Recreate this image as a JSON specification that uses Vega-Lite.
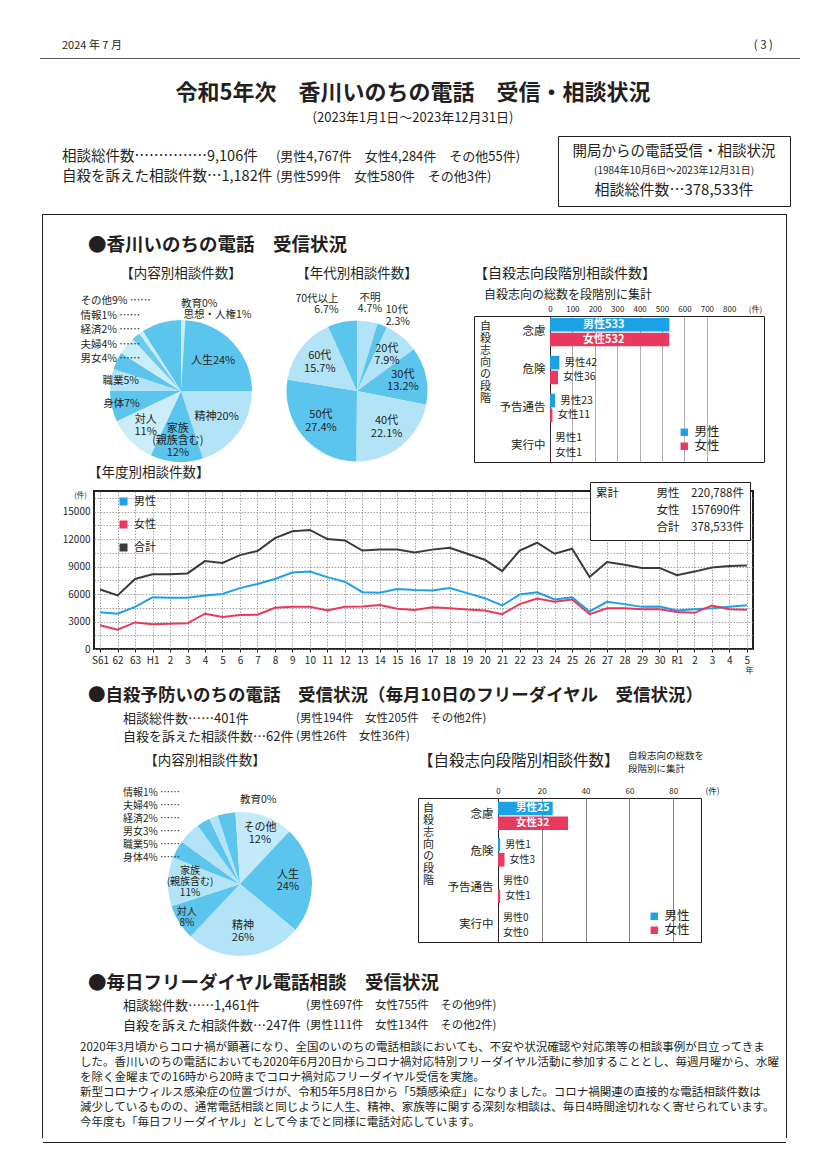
{
"$schema":"https://vega.github.io/schema/vega-lite/v6.json",
"background":"#ffffff",
"padding":0,
"spacing":0,
"resolve":{"scale":{"color":"independent","shape":"independent","theta":"independent"},"legend":{"color":"independent","shape":"independent"}},
"config":{"font":"Noto Sans CJK JP","view":{"stroke":null},"concat":{"spacing":0},"text":{"color":"#231f20"},"axis":{"labelColor":"#231f20","titleColor":"#231f20"},"legend":{"labelColor":"#231f20","titleColor":"#231f20","padding":0},"title":{"color":"#231f20","subtitleColor":"#231f20"}},
"vconcat":[
 {"width":826,"height":34,"data":{"values":[]},"mark":"text"},
 {"hconcat":[
   {"width":62,"height":24,"data":{"values":[]},"mark":"text"},
   {"width":711,"height":24,
    "data":{"values":[{"部":"日付","文":"2024 年 7 月"},{"部":"頁","文":"( 3 )"}]},
    "layer":[
     {"transform":[{"filter":"datum['部'] == '日付'"}],"mark":{"type":"text","align":"left","fontSize":11},
      "encoding":{"x":{"field":"部","type":"nominal","bandPosition":0,"scale":{"type":"band","domain":["日付","頁"],"paddingInner":0,"paddingOuter":0},"axis":null},"text":{"field":"文"}}},
     {"transform":[{"filter":"datum['部'] == '頁'"}],"mark":{"type":"text","align":"right","fontSize":11.5},
      "encoding":{"x":{"field":"部","type":"nominal","bandPosition":1,"scale":{"type":"band","domain":["日付","頁"],"paddingInner":0,"paddingOuter":0},"axis":null},"text":{"field":"文"}}}
    ]}
 ],"spacing":0,"bounds":"flush"},
 {"hconcat":[
   {"width":40,"height":1,"data":{"values":[]},"mark":"text"},
   {"width":760,"height":1,"view":{"fill":"#555555","stroke":null},"data":{"values":[]},"mark":"text"}
 ],"spacing":0,"bounds":"flush"},
 {"width":826,"height":21,"data":{"values":[]},"mark":"text"},
 {"width":826,"height":50,
  "data":{"values":[{"行":1,"文":"令和5年次　香川いのちの電話　受信・相談状況"},{"行":2,"文":"(2023年1月1日～2023年12月31日)"}]},
  "encoding":{"y":{"field":"行","type":"ordinal","scale":{"type":"band","domain":[1,2],"paddingInner":0,"paddingOuter":0},"axis":null},"text":{"field":"文"}},
  "layer":[
   {"transform":[{"filter":"datum['行'] == 1"}],"mark":{"type":"text","fontSize":22,"fontWeight":"bold"}},
   {"transform":[{"filter":"datum['行'] == 2"}],"mark":{"type":"text","fontSize":13}}
  ]},
 {"width":826,"height":5,"data":{"values":[]},"mark":"text"},
 {"hconcat":[
   {"width":62,"height":70,"data":{"values":[]},"mark":"text"},
   {"width":496,"height":70,
    "data":{"values":[
      {"行":1,"部":"本","文":"相談総件数……………9,106件"},
      {"行":1,"部":"内訳","文":"(男性4,767件　女性4,284件　その他55件)"},
      {"行":2,"部":"本","文":"自殺を訴えた相談件数…1,182件"},
      {"行":2,"部":"内訳","文":"(男性599件　女性580件　その他3件)"}]},
    "encoding":{
      "x":{"field":"部","type":"nominal","bandPosition":0,"scale":{"type":"band","domain":["本","内訳"],"paddingInner":0,"paddingOuter":0.159,"align":0},"axis":null},
      "y":{"field":"行","type":"ordinal","scale":{"type":"band","domain":[1,2],"paddingInner":0,"paddingOuter":0.75,"align":0.3667},"axis":null},
      "text":{"field":"文"}},
    "layer":[
      {"transform":[{"filter":"datum['部'] == '本'"}],"mark":{"type":"text","align":"left","fontSize":14.5}},
      {"transform":[{"filter":"datum['部'] == '内訳'"}],"mark":{"type":"text","align":"left","fontSize":13}}
    ]},
   {"width":232,"height":70,"view":{"stroke":"#231f20","strokeWidth":1},
    "data":{"values":[{"行":1,"文":"開局からの電話受信・相談状況"},{"行":2,"文":"(1984年10月6日～2023年12月31日)"},{"行":3,"文":"相談総件数…378,533件"}]},
    "encoding":{"y":{"field":"行","type":"ordinal","scale":{"type":"band","domain":[1,2,3],"paddingInner":0,"paddingOuter":0.35},"axis":null},"text":{"field":"文"}},
    "layer":[
      {"transform":[{"filter":"datum['行'] == 1"}],"mark":{"type":"text","fontSize":14.5}},
      {"transform":[{"filter":"datum['行'] == 2"}],"mark":{"type":"text","fontSize":10}},
      {"transform":[{"filter":"datum['行'] == 3"}],"mark":{"type":"text","fontSize":15}}
    ]}
 ],"spacing":0,"bounds":"flush"},
 {"width":826,"height":7,"data":{"values":[]},"mark":"text"},
 {"hconcat":[
   {"width":42,"height":924,"data":{"values":[]},"mark":"text"},
   {"width":1,"height":924,"view":{"fill":"#231f20","stroke":null},"data":{"values":[]},"mark":"text"},
   {"vconcat":[
     {"width":743,"height":1,"view":{"fill":"#231f20","stroke":null},"data":{"values":[]},"mark":"text"},
     {"width":743,"height":18,"data":{"values":[]},"mark":"text"},
     {"hconcat":[
       {"width":45,"height":24,"data":{"values":[]},"mark":"text"},
       {"width":420,"height":24,"data":{"values":[{"部":"本","文":"●香川いのちの電話　受信状況"}]},
        "mark":{"type":"text","align":"left","fontSize":18.5,"fontWeight":"bold"},
        "encoding":{"x":{"field":"部","type":"nominal","bandPosition":0,"scale":{"type":"band","paddingInner":0,"paddingOuter":0},"axis":null},"text":{"field":"文"}}}
     ],"spacing":0,"bounds":"flush"},
     {"width":743,"height":3,"data":{"values":[]},"mark":"text"},
     {"hconcat":[
       {"width":58,"height":28,"data":{"values":[]},"mark":"text"},
       {"width":160,"height":28,"data":{"values":[{"文":"【内容別相談件数】"}]},"mark":{"type":"text","fontSize":13.5},"encoding":{"text":{"field":"文"}}},
       {"width":16,"height":28,"data":{"values":[]},"mark":"text"},
       {"width":160,"height":28,"data":{"values":[{"文":"【年代別相談件数】"}]},"mark":{"type":"text","fontSize":13.5},"encoding":{"text":{"field":"文"}}},
       {"width":37,"height":28,"data":{"values":[]},"mark":"text"},
       {"width":290,"height":28,"data":{"values":[{"部":"本","文":"【自殺志向段階別相談件数】"}]},
        "mark":{"type":"text","align":"left","fontSize":14},
        "encoding":{"x":{"field":"部","type":"nominal","bandPosition":0,"scale":{"type":"band","paddingInner":0,"paddingOuter":0},"axis":null},"text":{"field":"文"}}}
     ],"spacing":0,"bounds":"flush"},
     {"hconcat":[
       {"width":58,"height":150,"data":{"values":[]},"mark":"text"},
       {"width":160,"height":150,
        "data":{"values":[
          {"順":1,"内容":"思想・人権","割合":1,"表示":"思想・人権1%"},
          {"順":2,"内容":"人生","割合":24,"表示":"人生24%"},
          {"順":3,"内容":"精神","割合":20,"表示":"精神20%"},
          {"順":4,"内容":"家族","割合":12,"表示":"家族\n(親族含む)\n12%"},
          {"順":5,"内容":"対人","割合":11,"表示":"対人\n11%"},
          {"順":6,"内容":"身体","割合":7,"表示":"身体7%"},
          {"順":7,"内容":"職業","割合":5,"表示":"職業5%"},
          {"順":8,"内容":"男女","割合":4,"表示":"男女4%"},
          {"順":9,"内容":"夫婦","割合":4,"表示":"夫婦4%"},
          {"順":10,"内容":"経済","割合":2,"表示":"経済2%"},
          {"順":11,"内容":"情報","割合":1,"表示":"情報1%"},
          {"順":12,"内容":"その他","割合":9,"表示":"その他9%"},
          {"順":13,"内容":"教育","割合":0,"表示":"教育0%"}]},
        "encoding":{"theta":{"field":"割合","type":"quantitative","stack":true},"order":{"field":"順","type":"quantitative"}},
        "layer":[
          {"mark":{"type":"arc","outerRadius":71},
           "encoding":{"color":{"field":"表示","type":"nominal",
             "scale":{"domain":["思想・人権1%","人生24%","精神20%","家族\n(親族含む)\n12%","対人\n11%","身体7%","職業5%","男女4%","夫婦4%","経済2%","情報1%","その他9%","教育0%"],
                      "range":["#cbedf9","#5cc5ee","#b3e3f7","#5cc5ee","#cbedf9","#5cc5ee","#b3e3f7","#5cc5ee","#cbedf9","#6ccbf0","#cbedf9","#5cc5ee","#b3e3f7"]},
             "legend":{"orient":"none","legendX":-31,"legendY":-20,"title":null,"values":["その他9%","情報1%","経済2%","夫婦4%","男女4%"],"symbolOpacity":0,"symbolSize":0,"symbolStrokeWidth":0,"labelOffset":0,"labelFontSize":10.5,"rowPadding":3.5,"labelExpr":"datum.label + ' ……'"}}}},
          {"mark":{"type":"text","radius":44,"fontSize":11},
           "encoding":{"text":{"field":"表示"},"opacity":{"condition":{"test":"indexof(['人生','精神'], datum['内容']) >= 0","value":1},"value":0}}},
          {"mark":{"type":"text","radius":50,"fontSize":11,"lineHeight":12,"dy":-6,"lineBreak":"\n"},
           "encoding":{"text":{"field":"表示"},"opacity":{"condition":{"test":"datum['内容'] == '対人'","value":1},"value":0}}},
          {"mark":{"type":"text","radius":50,"fontSize":11,"lineHeight":12,"dy":-12,"lineBreak":"\n"},
           "encoding":{"text":{"field":"表示"},"opacity":{"condition":{"test":"datum['内容'] == '家族'","value":1},"value":0}}},
          {"mark":{"type":"text","radius":61,"fontSize":10.5},
           "encoding":{"text":{"field":"表示"},"opacity":{"condition":{"test":"indexof(['身体','職業'], datum['内容']) >= 0","value":1},"value":0}}},
          {"mark":{"type":"text","fontSize":10.5,"align":"left","radius":{"expr":"datum['内容'] == '教育' ? 87 : datum['内容'] == '思想・人権' ? 76 : 0"}},
           "encoding":{"text":{"field":"表示"},"opacity":{"condition":{"test":"indexof(['教育','思想・人権'], datum['内容']) >= 0","value":1},"value":0}}}
        ]},
       {"width":16,"height":150,"data":{"values":[]},"mark":"text"},
       {"width":160,"height":150,
        "data":{"values":[
          {"順":1,"年代":"不明","割合":4.7,"表示":"不明\n4.7%"},
          {"順":2,"年代":"10代","割合":2.3,"表示":"10代\n2.3%"},
          {"順":3,"年代":"20代","割合":7.9,"表示":"20代\n7.9%"},
          {"順":4,"年代":"30代","割合":13.2,"表示":"30代\n13.2%"},
          {"順":5,"年代":"40代","割合":22.1,"表示":"40代\n22.1%"},
          {"順":6,"年代":"50代","割合":27.4,"表示":"50代\n27.4%"},
          {"順":7,"年代":"60代","割合":15.7,"表示":"60代\n15.7%"},
          {"順":8,"年代":"70代以上","割合":6.7,"表示":"70代以上\n6.7%"}]},
        "encoding":{"theta":{"field":"割合","type":"quantitative","stack":true},"order":{"field":"順","type":"quantitative"}},
        "layer":[
          {"mark":{"type":"arc","outerRadius":70.5},
           "encoding":{"color":{"field":"表示","type":"nominal",
             "scale":{"domain":["不明\n4.7%","10代\n2.3%","20代\n7.9%","30代\n13.2%","40代\n22.1%","50代\n27.4%","60代\n15.7%","70代以上\n6.7%"],
                      "range":["#b3e3f7","#5cc5ee","#b3e3f7","#5cc5ee","#b3e3f7","#5cc5ee","#b3e3f7","#5cc5ee"]},"legend":null}}},
          {"mark":{"type":"text","radius":47,"fontSize":11,"lineHeight":12.5,"dy":-6,"lineBreak":"\n"},
           "encoding":{"text":{"field":"表示"},"opacity":{"condition":{"test":"indexof(['20代','30代','40代','50代','60代'], datum['年代']) >= 0","value":1},"value":0}}},
          {"mark":{"type":"text","fontSize":10.5,"lineHeight":11.5,"dy":-6,"lineBreak":"\n","radius":{"expr":"datum['年代'] == '不明' ? 88 : 0"}},
           "encoding":{"text":{"field":"表示"},"opacity":{"condition":{"test":"datum['年代'] == '不明'","value":1},"value":0}}},
          {"mark":{"type":"text","fontSize":10.5,"lineHeight":11.5,"dy":-6,"align":"right","lineBreak":"\n","radius":{"expr":"datum['年代'] == '70代以上' ? 88 : 0"}},
           "encoding":{"text":{"field":"表示"},"opacity":{"condition":{"test":"datum['年代'] == '70代以上'","value":1},"value":0}}},
          {"mark":{"type":"text","fontSize":10.5,"lineHeight":11.5,"dy":-6,"align":"left","lineBreak":"\n","radius":{"expr":"datum['年代'] == '10代' ? 80 : 0"}},
           "encoding":{"text":{"field":"表示"},"opacity":{"condition":{"test":"datum['年代'] == '10代'","value":1},"value":0}}}
        ]},
       {"width":37,"height":150,"data":{"values":[]},"mark":"text"},
       {"width":290,"height":146,"view":{"stroke":"#231f20","strokeWidth":1},
        "title":{"text":"自殺志向の総数を段階別に集計","anchor":"start","frame":"group","dx":10,"offset":3,"fontSize":12,"fontWeight":"normal"},
        "data":{"values":[
          {"段階":"念慮","性別":"男性","件数":533,"表示":"男性533"},
          {"段階":"念慮","性別":"女性","件数":532,"表示":"女性532"},
          {"段階":"危険","性別":"男性","件数":42,"表示":"男性42"},
          {"段階":"危険","性別":"女性","件数":36,"表示":"女性36"},
          {"段階":"予告通告","性別":"男性","件数":23,"表示":"男性23"},
          {"段階":"予告通告","性別":"女性","件数":11,"表示":"女性11"},
          {"段階":"実行中","性別":"男性","件数":1,"表示":"男性1"},
          {"段階":"実行中","性別":"女性","件数":1,"表示":"女性1"}]},
        "encoding":{
          "y":{"field":"段階","type":"nominal","sort":["念慮","危険","予告通告","実行中"],"scale":{"paddingInner":0.25,"paddingOuter":0.05},
               "axis":{"offset":-76,"ticks":false,"domainColor":"#231f20","domainWidth":1,"labelFontSize":11.5,"labelPadding":5,"title":["自","殺","志","向","の","段","階"],"titleAngle":0,"titleAlign":"center","titleBaseline":"top","titleX":-65,"titleY":4,"titleFontSize":11,"titleFontWeight":"normal","titleLineHeight":12}},
          "yOffset":{"field":"性別","type":"nominal","sort":["男性","女性"],"scale":{"paddingInner":0.08}},
          "x":{"field":"件数","type":"quantitative","scale":{"domain":[-339,955],"nice":false},
               "axis":{"orient":"top","values":[0,100,200,300,400,500,600,700,800,915],"format":"d","labelExpr":"datum.value == 915 ? '(件)' : datum.label","grid":true,"gridColor":"#9a9a9a","gridWidth":0.8,"gridOpacity":{"condition":{"test":"datum.value == 0 || datum.value >= 800","value":0},"value":1},"domain":false,"ticks":false,"labelFontSize":8,"labelPadding":3,"title":null}}},
        "layer":[
          {"mark":{"type":"bar"},"encoding":{"color":{"field":"性別","type":"nominal","scale":{"domain":["男性","女性"],"range":["#1ba1e6","#e73a5e"]},
             "legend":{"orient":"none","legendX":204,"legendY":110,"title":null,"symbolType":"square","symbolSize":55,"labelFontSize":12.5,"rowPadding":1}}}},
          {"transform":[{"filter":"datum['件数'] >= 100"}],"mark":{"type":"text","align":"left","dx":33,"color":"#ffffff","fontSize":11,"fontWeight":"bold"},
           "encoding":{"x":{"datum":0,"type":"quantitative"},"text":{"field":"表示"}}},
          {"transform":[{"filter":"datum['件数'] < 100"}],"mark":{"type":"text","align":"left","dx":5,"fontSize":10.5},
           "encoding":{"text":{"field":"表示"}}}
        ]}
     ],"spacing":0,"bounds":"flush","resolve":{"scale":{"color":"independent","theta":"independent"},"legend":{"color":"independent"}}},
     {"hconcat":[
       {"width":45,"height":14,"data":{"values":[]},"mark":"text"},
       {"width":300,"height":14,"data":{"values":[{"部":"本","文":"【年度別相談件数】"}]},
        "mark":{"type":"text","align":"left","fontSize":13.5},
        "encoding":{"x":{"field":"部","type":"nominal","bandPosition":0,"scale":{"type":"band","paddingInner":0,"paddingOuter":0},"axis":null},"text":{"field":"文"}}}
     ],"spacing":0,"bounds":"flush"},
     {"hconcat":[
       {"width":51,"height":193,"data":{"values":[]},"mark":"text"},
       {"width":659,"height":158,"view":{"stroke":"#231f20","strokeWidth":2},
        "resolve":{"scale":{"color":"independent","shape":"independent"},"legend":{"color":"independent","shape":"independent"}},
        "layer":[
          {"data":{"values":[
            {"年":1986,"男性":4000,"女性":2600,"合計":6500},
            {"年":1987,"男性":3850,"女性":2100,"合計":5850},
            {"年":1988,"男性":4600,"女性":2900,"合計":7650},
            {"年":1989,"男性":5650,"女性":2700,"合計":8150},
            {"年":1990,"男性":5600,"女性":2750,"合計":8150},
            {"年":1991,"男性":5600,"女性":2800,"合計":8250},
            {"年":1992,"男性":5850,"女性":3850,"合計":9600},
            {"年":1993,"男性":6000,"女性":3500,"合計":9400},
            {"年":1994,"男性":6650,"女性":3700,"合計":10250},
            {"年":1995,"男性":7100,"女性":3750,"合計":10700},
            {"年":1996,"男性":7650,"女性":4500,"合計":12100},
            {"年":1997,"男性":8350,"女性":4600,"合計":12850},
            {"年":1998,"男性":8450,"女性":4600,"合計":13000},
            {"年":1999,"男性":7850,"女性":4200,"合計":12000},
            {"年":2000,"男性":7350,"女性":4600,"合計":11850},
            {"年":2001,"男性":6200,"女性":4650,"合計":10750},
            {"年":2002,"男性":6150,"女性":4800,"合計":10850},
            {"年":2003,"男性":6550,"女性":4400,"合計":10850},
            {"年":2004,"男性":6450,"女性":4250,"合計":10550},
            {"年":2005,"男性":6400,"女性":4550,"合計":10850},
            {"年":2006,"男性":6650,"女性":4450,"合計":11050},
            {"年":2007,"男性":6100,"女性":4300,"合計":10400},
            {"年":2008,"男性":5550,"女性":4200,"合計":9750},
            {"年":2009,"男性":4750,"女性":3800,"合計":8500},
            {"年":2010,"男性":5950,"女性":4900,"合計":10750},
            {"年":2011,"男性":6200,"女性":5500,"合計":11600},
            {"年":2012,"男性":5400,"女性":5150,"合計":10400},
            {"年":2013,"男性":5650,"女性":5400,"合計":10950},
            {"年":2014,"男性":4100,"女性":3800,"合計":7850},
            {"年":2015,"男性":5150,"女性":4450,"合計":9500},
            {"年":2016,"男性":4900,"女性":4450,"合計":9200},
            {"年":2017,"男性":4600,"女性":4350,"合計":8850},
            {"年":2018,"男性":4650,"女性":4350,"合計":8850},
            {"年":2019,"男性":4200,"女性":4050,"合計":8050},
            {"年":2020,"男性":4350,"女性":3950,"合計":8450},
            {"年":2021,"男性":4450,"女性":4750,"合計":8900},
            {"年":2022,"男性":4600,"女性":4350,"合計":9050},
            {"年":2023,"男性":4767,"女性":4284,"合計":9106}]},
           "transform":[{"fold":["男性","女性","合計"],"as":["区分","件数"]}],
           "mark":{"type":"line","strokeWidth":2},
           "encoding":{
             "x":{"field":"年","type":"ordinal","scale":{"type":"point","padding":0.35},
                  "axis":{"labelExpr":"datum.value == 1986 ? 'S61' : datum.value < 1989 ? '' + (datum.value - 1925) : datum.value == 1989 ? 'H1' : datum.value < 2019 ? '' + (datum.value - 1988) : datum.value == 2019 ? 'R1' : '' + (datum.value - 2018)",
                          "labelAngle":0,"labelFontSize":10,"labelPadding":3,"grid":true,"gridColor":"#8c8c8c","gridDash":[1.5,1.5],"gridWidth":0.8,"ticks":true,"tickSize":3,"tickColor":"#231f20","domain":false,"title":"年","titleAnchor":"end","titleFontSize":8,"titleFontWeight":"normal","titlePadding":1}},
             "y":{"field":"件数","type":"quantitative","scale":{"domain":[0,17250],"nice":false},
                  "axis":{"values":[0,1500,3000,4500,6000,7500,9000,10500,12000,13500,15000,16500],"format":"d","labelExpr":"datum.value % 3000 == 0 ? datum.label : ''","grid":true,"gridColor":"#8c8c8c","gridDash":[1.5,1.5],"gridWidth":0.8,"ticks":false,"domain":false,"labelFontSize":10,"labelPadding":4,"title":"(件)","titleAngle":0,"titleX":-14,"titleY":4,"titleAlign":"center","titleBaseline":"middle","titleFontSize":7.5,"titleFontWeight":"normal"}},
             "color":{"field":"区分","type":"nominal","scale":{"domain":["男性","女性","合計"],"range":["#1da1e8","#e8395c","#3a3a3a"]},
                  "legend":{"orient":"none","legendX":24,"legendY":5,"title":null,"symbolType":"square","symbolSize":16,"symbolStrokeWidth":4,"labelFontSize":11,"rowPadding":2,"labelOffset":5}}}},
          {"data":{"values":[{"累計":"男性　220,788件"},{"累計":"女性　157690件"},{"累計":"合計　378,533件"}]},
           "mark":{"type":"point","opacity":0},
           "encoding":{"shape":{"field":"累計","type":"nominal","sort":null,
             "legend":{"orient":"none","legendX":496,"legendY":-9,"title":"累計","titleOrient":"left","titleAnchor":"start","titleFontSize":11.5,"titleFontWeight":"normal","titlePadding":26,"labelFontSize":11.5,"labelOffset":0,"symbolSize":0,"symbolOpacity":0,"symbolStrokeWidth":0,"rowPadding":4,"padding":6,"strokeColor":"#231f20","fillColor":"#ffffff","labelLimit":200}}}}
        ]}
     ],"spacing":0,"bounds":"flush","resolve":{"scale":{"color":"independent","shape":"independent"},"legend":{"color":"independent","shape":"independent"}}},
     {"hconcat":[
       {"width":45,"height":24,"data":{"values":[]},"mark":"text"},
       {"width":660,"height":24,"data":{"values":[{"部":"本","文":"●自殺予防いのちの電話　受信状況（毎月10日のフリーダイヤル　受信状況）"}]},
        "mark":{"type":"text","align":"left","fontSize":17.5,"fontWeight":"bold"},
        "encoding":{"x":{"field":"部","type":"nominal","bandPosition":0,"scale":{"type":"band","paddingInner":0,"paddingOuter":0},"axis":null},"text":{"field":"文"}}}
     ],"spacing":0,"bounds":"flush"},
     {"width":743,"height":2,"data":{"values":[]},"mark":"text"},
     {"hconcat":[
       {"width":80,"height":36,"data":{"values":[]},"mark":"text"},
       {"width":380,"height":36,
        "data":{"values":[
          {"行":1,"部":"本","文":"相談総件数……401件"},
          {"行":1,"部":"内訳","文":"(男性194件　女性205件　その他2件)"},
          {"行":2,"部":"本","文":"自殺を訴えた相談件数…62件"},
          {"行":2,"部":"内訳","文":"(男性26件　女性36件)"}]},
        "encoding":{
          "x":{"field":"部","type":"nominal","bandPosition":0,"scale":{"type":"band","domain":["本","内訳"],"paddingInner":0,"paddingOuter":0.098,"align":0},"axis":null},
          "y":{"field":"行","type":"ordinal","scale":{"type":"band","domain":[1,2],"paddingInner":0,"paddingOuter":0},"axis":null},
          "text":{"field":"文"}},
        "layer":[
          {"transform":[{"filter":"datum['部'] == '本'"}],"mark":{"type":"text","align":"left","fontSize":13}},
          {"transform":[{"filter":"datum['部'] == '内訳'"}],"mark":{"type":"text","align":"left","fontSize":11.5}}
        ]}
     ],"spacing":0,"bounds":"flush"},
     {"hconcat":[
       {"width":87,"height":30,"data":{"values":[]},"mark":"text"},
       {"width":150,"height":30,"data":{"values":[{"文":"【内容別相談件数】"}]},"mark":{"type":"text","fontSize":13.5},"encoding":{"text":{"field":"文"}}},
       {"width":138,"height":30,"data":{"values":[]},"mark":"text"},
       {"width":210,"height":30,"data":{"values":[{"部":"本","文":"【自殺志向段階別相談件数】"}]},
        "mark":{"type":"text","align":"left","fontSize":15.5},
        "encoding":{"x":{"field":"部","type":"nominal","bandPosition":0,"scale":{"type":"band","paddingInner":0,"paddingOuter":0},"axis":null},"text":{"field":"文"}}},
       {"width":80,"height":30,"data":{"values":[{"行":1,"部":"本","文":"自殺志向の総数を"},{"行":2,"部":"本","文":"段階別に集計"}]},
        "mark":{"type":"text","align":"left","fontSize":9.5},
        "encoding":{"x":{"field":"部","type":"nominal","bandPosition":0,"scale":{"type":"band","paddingInner":0,"paddingOuter":0},"axis":null},
                    "y":{"field":"行","type":"ordinal","scale":{"type":"band","domain":[1,2],"paddingInner":0,"paddingOuter":0.154,"align":0.875},"axis":null},
                    "text":{"field":"文"}}}
     ],"spacing":0,"bounds":"flush"},
     {"width":743,"height":9,"data":{"values":[]},"mark":"text"},
     {"hconcat":[
       {"width":117,"height":172,"data":{"values":[]},"mark":"text"},
       {"width":160,"height":172,
        "data":{"values":[
          {"順":1,"内容":"教育","割合":0,"表示":"教育0%"},
          {"順":2,"内容":"その他","割合":12,"表示":"その他\n12%"},
          {"順":3,"内容":"人生","割合":24,"表示":"人生\n24%"},
          {"順":4,"内容":"精神","割合":26,"表示":"精神\n26%"},
          {"順":5,"内容":"対人","割合":8,"表示":"対人\n8%"},
          {"順":6,"内容":"家族","割合":11,"表示":"家族\n(親族含む)\n11%"},
          {"順":7,"内容":"身体","割合":4,"表示":"身体4%"},
          {"順":8,"内容":"職業","割合":5,"表示":"職業5%"},
          {"順":9,"内容":"男女","割合":3,"表示":"男女3%"},
          {"順":10,"内容":"経済","割合":2,"表示":"経済2%"},
          {"順":11,"内容":"夫婦","割合":4,"表示":"夫婦4%"},
          {"順":12,"内容":"情報","割合":1,"表示":"情報1%"}]},
        "encoding":{"theta":{"field":"割合","type":"quantitative","stack":true},"order":{"field":"順","type":"quantitative"}},
        "layer":[
          {"mark":{"type":"arc","outerRadius":72},
           "encoding":{"color":{"field":"表示","type":"nominal",
             "scale":{"domain":["教育0%","その他\n12%","人生\n24%","精神\n26%","対人\n8%","家族\n(親族含む)\n11%","身体4%","職業5%","男女3%","経済2%","夫婦4%","情報1%"],
                      "range":["#b3e3f7","#c4e9f8","#5cc5ee","#b3e3f7","#5cc5ee","#b3e3f7","#5cc5ee","#b3e3f7","#5cc5ee","#b3e3f7","#5cc5ee","#c4e9f8"]},
             "legend":{"orient":"none","legendX":-47,"legendY":-10,"title":null,"values":["情報1%","夫婦4%","経済2%","男女3%","職業5%","身体4%"],"symbolOpacity":0,"symbolSize":0,"symbolStrokeWidth":0,"labelOffset":0,"labelFontSize":10,"rowPadding":3,"labelExpr":"datum.label + ' ……'"}}}},
          {"mark":{"type":"text","fontSize":11,"lineHeight":12.5,"dy":-6,"lineBreak":"\n","radius":{"expr":"datum['内容'] == 'その他' ? 54 : 48"}},
           "encoding":{"text":{"field":"表示"},"opacity":{"condition":{"test":"indexof(['その他','人生','精神'], datum['内容']) >= 0","value":1},"value":0}}},
          {"mark":{"type":"text","radius":63,"fontSize":10,"lineHeight":11,"dy":-5.5,"lineBreak":"\n"},
           "encoding":{"text":{"field":"表示"},"opacity":{"condition":{"test":"datum['内容'] == '対人'","value":1},"value":0}}},
          {"mark":{"type":"text","radius":50,"fontSize":10,"lineHeight":11,"dy":-11,"lineBreak":"\n"},
           "encoding":{"text":{"field":"表示"},"opacity":{"condition":{"test":"datum['内容'] == '家族'","value":1},"value":0}}},
          {"mark":{"type":"text","fontSize":10.5,"align":"left","radius":{"expr":"datum['内容'] == '教育' ? 84 : 0"}},
           "encoding":{"text":{"field":"表示"},"opacity":{"condition":{"test":"datum['内容'] == '教育'","value":1},"value":0}}}
        ]},
       {"width":98,"height":172,"data":{"values":[]},"mark":"text"},
       {"width":283,"height":144,"view":{"stroke":"#231f20","strokeWidth":1},
        "data":{"values":[
          {"段階":"念慮","性別":"男性","件数":25,"表示":"男性25"},
          {"段階":"念慮","性別":"女性","件数":32,"表示":"女性32"},
          {"段階":"危険","性別":"男性","件数":1,"表示":"男性1"},
          {"段階":"危険","性別":"女性","件数":3,"表示":"女性3"},
          {"段階":"予告通告","性別":"男性","件数":0,"表示":"男性0"},
          {"段階":"予告通告","性別":"女性","件数":1,"表示":"女性1"},
          {"段階":"実行中","性別":"男性","件数":0,"表示":"男性0"},
          {"段階":"実行中","性別":"女性","件数":0,"表示":"女性0"}]},
        "encoding":{
          "y":{"field":"段階","type":"nominal","sort":["念慮","危険","予告通告","実行中"],"scale":{"paddingInner":0.25,"paddingOuter":0.1},
               "axis":{"offset":-80,"ticks":false,"domainColor":"#231f20","domainWidth":1,"labelFontSize":11.5,"labelPadding":5,"title":["自","殺","志","向","の","段","階"],"titleAngle":0,"titleAlign":"center","titleBaseline":"top","titleX":-70,"titleY":4,"titleFontSize":11,"titleFontWeight":"normal","titleLineHeight":12}},
          "yOffset":{"field":"性別","type":"nominal","sort":["男性","女性"],"scale":{"paddingInner":0.08}},
          "x":{"field":"件数","type":"quantitative","scale":{"domain":[-36.5,92.7],"nice":false},
               "axis":{"orient":"top","values":[0,20,40,60,80],"format":"d","grid":true,"gridColor":"#777777","gridWidth":0.9,"gridOpacity":{"condition":{"test":"datum.value == 0","value":0},"value":1},"domain":false,"ticks":false,"labelFontSize":8,"labelPadding":3,"title":"(件)","titleX":294,"titleY":-3,"titleAlign":"center","titleBaseline":"bottom","titleFontSize":8.5,"titleFontWeight":"normal"}}},
        "layer":[
          {"mark":{"type":"bar"},"encoding":{"color":{"field":"性別","type":"nominal","scale":{"domain":["男性","女性"],"range":["#1ba1e6","#e73a5e"]},
             "legend":{"orient":"none","legendX":230,"legendY":112,"title":null,"symbolType":"square","symbolSize":55,"labelFontSize":12.5,"rowPadding":1}}}},
          {"transform":[{"filter":"datum['件数'] >= 10"}],"mark":{"type":"text","align":"left","dx":18,"color":"#ffffff","fontSize":10.5,"fontWeight":"bold"},
           "encoding":{"x":{"datum":0,"type":"quantitative"},"text":{"field":"表示"}}},
          {"transform":[{"filter":"datum['件数'] < 10"}],"mark":{"type":"text","align":"left","dx":5,"fontSize":10},
           "encoding":{"text":{"field":"表示"}}}
        ]}
     ],"spacing":0,"bounds":"flush","resolve":{"scale":{"color":"independent","theta":"independent"},"legend":{"color":"independent"}}},
     {"width":743,"height":1,"data":{"values":[]},"mark":"text"},
     {"hconcat":[
       {"width":45,"height":24,"data":{"values":[]},"mark":"text"},
       {"width":420,"height":24,"data":{"values":[{"部":"本","文":"●毎日フリーダイヤル電話相談　受信状況"}]},
        "mark":{"type":"text","align":"left","fontSize":18.5,"fontWeight":"bold"},
        "encoding":{"x":{"field":"部","type":"nominal","bandPosition":0,"scale":{"type":"band","paddingInner":0,"paddingOuter":0},"axis":null},"text":{"field":"文"}}}
     ],"spacing":0,"bounds":"flush"},
     {"width":743,"height":1,"data":{"values":[]},"mark":"text"},
     {"hconcat":[
       {"width":80,"height":40,"data":{"values":[]},"mark":"text"},
       {"width":380,"height":40,
        "data":{"values":[
          {"行":1,"部":"本","文":"相談総件数……1,461件"},
          {"行":1,"部":"内訳","文":"(男性697件　女性755件　その他9件)"},
          {"行":2,"部":"本","文":"自殺を訴えた相談件数…247件"},
          {"行":2,"部":"内訳","文":"(男性111件　女性134件　その他2件)"}]},
        "encoding":{
          "x":{"field":"部","type":"nominal","bandPosition":0,"scale":{"type":"band","domain":["本","内訳"],"paddingInner":0,"paddingOuter":0.038,"align":0},"axis":null},
          "y":{"field":"行","type":"ordinal","scale":{"type":"band","domain":[1,2],"paddingInner":0,"paddingOuter":0},"axis":null},
          "text":{"field":"文"}},
        "layer":[
          {"transform":[{"filter":"datum['部'] == '本'"}],"mark":{"type":"text","align":"left","fontSize":13}},
          {"transform":[{"filter":"datum['部'] == '内訳'"}],"mark":{"type":"text","align":"left","fontSize":11.5}}
        ]}
     ],"spacing":0,"bounds":"flush"},
     {"width":743,"height":4,"data":{"values":[]},"mark":"text"},
     {"hconcat":[
       {"width":37,"height":91,"data":{"values":[]},"mark":"text"},
       {"width":705,"height":91,
        "data":{"values":[
          {"行":1,"部":"本","文":"　2020年3月頃からコロナ禍が顕著になり、全国のいのちの電話相談においても、不安や状況確認や対応策等の相談事例が目立ってきま"},
          {"行":2,"部":"本","文":"した。香川いのちの電話においても2020年6月20日からコロナ禍対応特別フリーダイヤル活動に参加することとし、毎週月曜から、水曜"},
          {"行":3,"部":"本","文":"を除く金曜までの16時から20時までコロナ禍対応フリーダイヤル受信を実施。"},
          {"行":4,"部":"本","文":"　新型コロナウィルス感染症の位置づけが、令和5年5月8日から「5類感染症」になりました。コロナ禍関連の直接的な電話相談件数は"},
          {"行":5,"部":"本","文":"減少しているものの、通常電話相談と同じように人生、精神、家族等に関する深刻な相談は、毎日4時間途切れなく寄せられています。"},
          {"行":6,"部":"本","文":"　今年度も「毎日フリーダイヤル」として今までと同様に電話対応しています。"}]},
        "mark":{"type":"text","align":"left","fontSize":11.5},
        "encoding":{
          "x":{"field":"部","type":"nominal","bandPosition":0,"scale":{"type":"band","paddingInner":0,"paddingOuter":0},"axis":null},
          "y":{"field":"行","type":"ordinal","scale":{"type":"band","paddingInner":0,"paddingOuter":0},"axis":null},
          "text":{"field":"文"}}}
     ],"spacing":0,"bounds":"flush"},
     {"width":743,"height":11,"data":{"values":[]},"mark":"text"},
     {"width":743,"height":1,"view":{"fill":"#231f20","stroke":null},"data":{"values":[]},"mark":"text"}
   ],"spacing":0,"resolve":{"scale":{"color":"independent","shape":"independent","theta":"independent"},"legend":{"color":"independent","shape":"independent"}}},
   {"width":1,"height":924,"view":{"fill":"#231f20","stroke":null},"data":{"values":[]},"mark":"text"}
 ],"spacing":0,"resolve":{"scale":{"color":"independent","shape":"independent","theta":"independent"},"legend":{"color":"independent","shape":"independent"}}}
]
}
